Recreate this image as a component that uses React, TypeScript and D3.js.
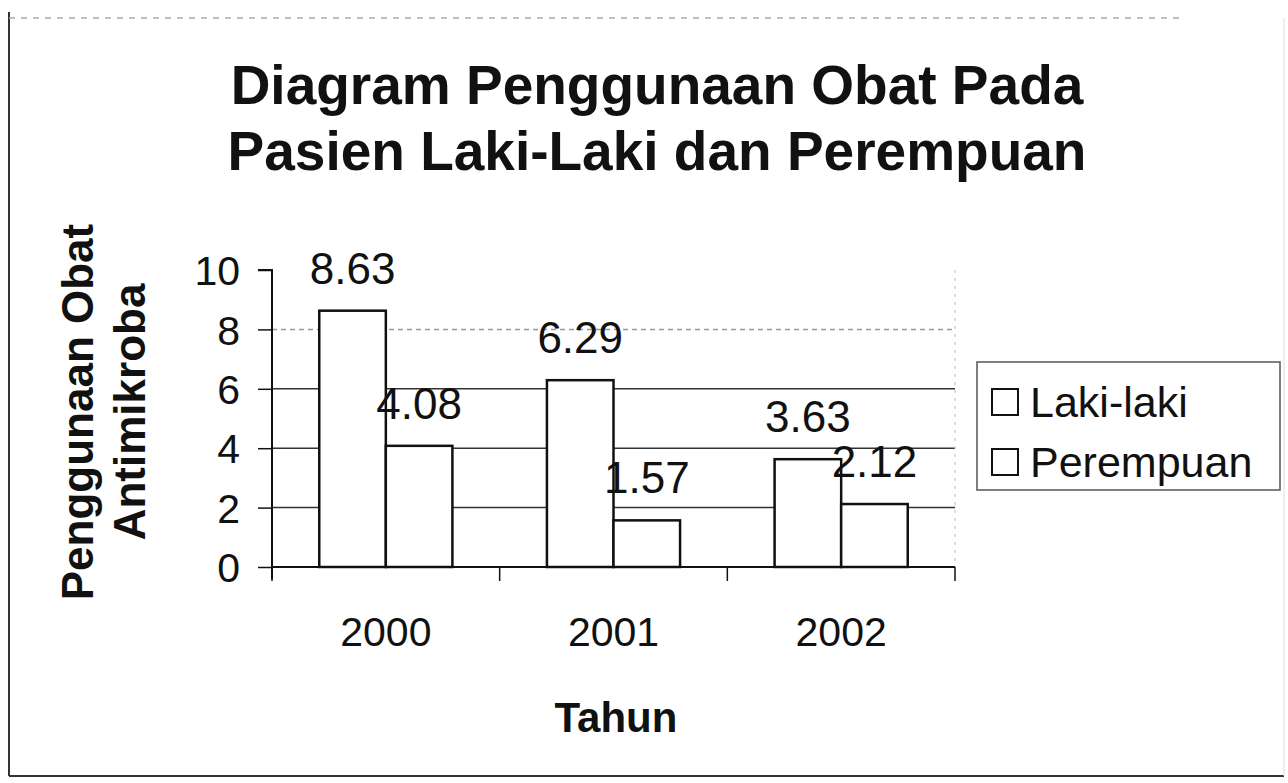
import { useEffect, useRef } from "react";
import * as d3 from "d3";

const years = ["2000", "2001", "2002"];
const series = ["Laki-laki", "Perempuan"];
const lakiLaki = [8.63, 6.29, 3.63];
const perempuan = [4.08, 1.57, 2.12];
const yTicks = [0, 2, 4, 6, 8, 10];
const titleLines = ["Diagram Penggunaan Obat Pada", "Pasien Laki-Laki dan Perempuan"];
const yTitleLines = ["Penggunaan Obat", "Antimikroba"];
const xTitle = "Tahun";

export default function App() {
  const svgRef = useRef<SVGSVGElement>(null);

  useEffect(() => {
    if (!svgRef.current) return;
    d3.select(svgRef.current).selectAll("*").remove();

    const width = 1288;
    const height = 783;
    const plot = { left: 272, right: 955, top: 270, bottom: 567 };
    const font = "'Liberation Sans', Arial, sans-serif";

    const svg = d3.select(svgRef.current)
      .attr("width", width)
      .attr("height", height)
      .attr("viewBox", `0 0 ${width} ${height}`)
      .style("font-family", font)
      .style("background", "#fff");

    // outer frame of the chart
    svg.append("line").attr("x1", 9).attr("x2", 9).attr("y1", 12).attr("y2", 776)
      .attr("stroke", "#333").attr("stroke-width", 2);
    svg.append("line").attr("x1", 9).attr("x2", 1284).attr("y1", 776).attr("y2", 776)
      .attr("stroke", "#333").attr("stroke-width", 2);
    svg.append("line").attr("x1", 9).attr("x2", 1180).attr("y1", 18).attr("y2", 18)
      .attr("stroke", "#aaa").attr("stroke-width", 1.5).attr("stroke-dasharray", "6 6");
    svg.append("line").attr("x1", 1284).attr("x2", 1284).attr("y1", 18).attr("y2", 776)
      .attr("stroke", "#ddd").attr("stroke-width", 1);

    const x = d3.scaleBand<string>().domain(years).range([plot.left, plot.right]).padding(0);
    const xInner = d3.scaleBand<string>().domain(series).range([0, x.bandwidth()])
      .paddingInner(0).paddingOuter(0.71);
    const y = d3.scaleLinear().domain([0, 10]).range([plot.bottom, plot.top]);

    // gridlines
    svg.append("g").selectAll("line")
      .data(yTicks.filter(t => t > 0 && t < 10))
      .enter().append("line")
      .attr("x1", plot.left).attr("x2", plot.right)
      .attr("y1", d => y(d)).attr("y2", d => y(d))
      .attr("stroke", d => (d === 8 ? "#999" : "#333"))
      .attr("stroke-width", 1.5)
      .attr("stroke-dasharray", d => (d === 8 ? "5 4" : null));

    // faint plot right border
    svg.append("line").attr("x1", plot.right).attr("x2", plot.right)
      .attr("y1", plot.top).attr("y2", plot.bottom)
      .attr("stroke", "#bbb").attr("stroke-dasharray", "3 5");

    // bars
    const rows = years.map((yr, i) => ({ yr, values: [lakiLaki[i], perempuan[i]] }));
    const groups = svg.append("g").selectAll("g")
      .data(rows).enter().append("g")
      .attr("transform", d => `translate(${x(d.yr)},0)`);

    groups.selectAll("rect")
      .data(d => d.values.map((v, j) => ({ s: series[j], v })))
      .enter().append("rect")
      .attr("x", d => xInner(d.s)!)
      .attr("width", xInner.bandwidth())
      .attr("y", d => y(d.v))
      .attr("height", d => y(0) - y(d.v))
      .attr("fill", "#fff")
      .attr("stroke", "#111")
      .attr("stroke-width", 2.5);

    groups.selectAll("text")
      .data(d => d.values.map((v, j) => ({ s: series[j], v })))
      .enter().append("text")
      .attr("x", d => xInner(d.s)! + xInner.bandwidth() / 2)
      .attr("y", d => y(d.v) - 27)
      .attr("text-anchor", "middle")
      .style("font-size", "44px")
      .style("fill", "#111")
      .text(d => d.v.toFixed(2));

    // y axis
    const yAxis = svg.append("g").attr("transform", `translate(${plot.left},0)`)
      .call(d3.axisLeft(y).tickValues(yTicks).tickSize(14).tickPadding(18));
    yAxis.select(".domain").attr("stroke", "#111").attr("stroke-width", 2)
      .attr("d", `M-14,${plot.top}H0V${plot.bottom + 12}`);
    yAxis.selectAll(".tick line").attr("stroke", "#111").attr("stroke-width", 1.5);
    yAxis.selectAll(".tick text")
      .style("font-size", "41px").style("font-family", font).attr("fill", "#111")
      .attr("dy", "0.36em");

    // x axis
    const xAxis = svg.append("g").attr("transform", `translate(0,${plot.bottom})`)
      .call(d3.axisBottom(x).tickSize(0).tickPadding(50));
    xAxis.select(".domain").attr("stroke", "#111").attr("stroke-width", 2)
      .attr("d", `M${plot.left},0H${plot.right}`);
    xAxis.selectAll(".tick text")
      .style("font-size", "41px").style("font-family", font).attr("fill", "#111");
    xAxis.append("g").selectAll("line")
      .data([...years.map(yr => x(yr)!), plot.right])
      .enter().append("line")
      .attr("x1", d => d).attr("x2", d => d)
      .attr("y1", 0).attr("y2", 14)
      .attr("stroke", "#111").attr("stroke-width", 1.5);

    // title
    svg.append("g").selectAll("text")
      .data(titleLines).enter().append("text")
      .attr("x", 657)
      .attr("y", (_, i) => 104 + i * 66)
      .attr("text-anchor", "middle")
      .style("font-size", "55px")
      .style("font-weight", "bold")
      .style("fill", "#111")
      .text(d => d);

    // y axis title
    svg.append("g").attr("transform", "translate(0,412) rotate(-90)")
      .selectAll("text")
      .data(yTitleLines).enter().append("text")
      .attr("x", 0)
      .attr("y", (_, i) => 93 + i * 52)
      .attr("text-anchor", "middle")
      .style("font-size", "44px")
      .style("font-weight", "bold")
      .style("fill", "#111")
      .text(d => d);

    // x axis title
    svg.append("text")
      .attr("x", 616).attr("y", 732)
      .attr("text-anchor", "middle")
      .style("font-size", "42px")
      .style("font-weight", "bold")
      .style("fill", "#111")
      .text(xTitle);

    // legend
    const legend = svg.append("g").attr("transform", "translate(977,362)");
    legend.append("rect")
      .attr("width", 303).attr("height", 128)
      .attr("fill", "#fff").attr("stroke", "#555").attr("stroke-width", 1.5);
    const items = legend.selectAll("g.item")
      .data(series).enter().append("g")
      .attr("class", "item")
      .attr("transform", (_, i) => `translate(15,${40 + i * 60})`);
    items.append("rect")
      .attr("x", 0).attr("y", -13).attr("width", 26).attr("height", 26)
      .attr("fill", "#fff").attr("stroke", "#111").attr("stroke-width", 2);
    items.append("text")
      .attr("x", 38).attr("y", 0).attr("dy", "0.36em")
      .style("font-size", "43px")
      .style("fill", "#111")
      .text(d => d);
  }, []);

  return (
    <div style={{ position: "absolute", left: 0, top: 0 }}>
      <svg ref={svgRef}></svg>
    </div>
  );
}
